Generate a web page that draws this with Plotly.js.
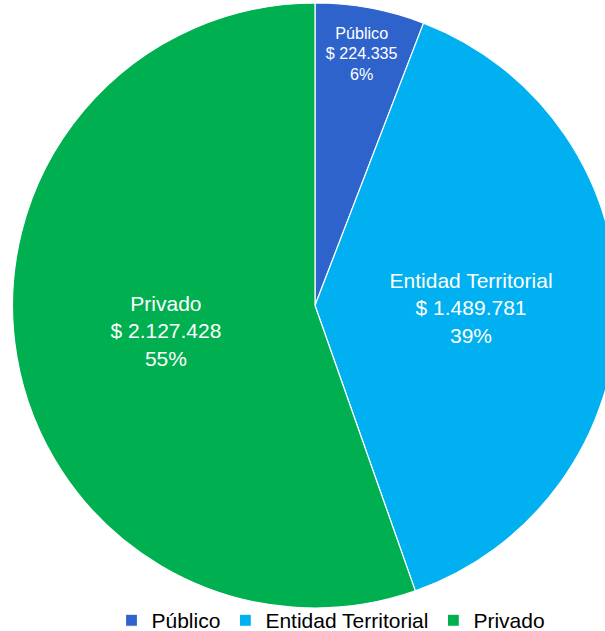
<!DOCTYPE html>
<html>
<head>
<meta charset="utf-8">
<script src="https://cdn.plot.ly/plotly-3.0.1.min.js"></script>
<style>
html, body { margin: 0; padding: 0; overflow: hidden; background: #ffffff; }
#chart { width: 625px; height: 631px; }
</style>
</head>
<body>
<div id="chart"></div>
<script>
const categories = ["Público", "Entidad Territorial", "Privado"];
const values = [224335, 1489781, 2127428];
const amountLabels = ["$ 224.335", "$ 1.489.781", "$ 2.127.428"];
const percentLabels = ["6%", "39%", "55%"];
const colors = ["#2F63CC", "#00B0F0", "#00B050"];

const texts = categories.map((c, i) => c + "<br>" + amountLabels[i] + "<br>" + percentLabels[i]);

const trace = {
  type: "pie",
  labels: categories,
  values: values,
  text: texts,
  texttemplate: "%{text}",
  textinfo: "text",
  textposition: "inside",
  insidetextorientation: "horizontal",
  sort: false,
  direction: "clockwise",
  rotation: 0,
  marker: { colors: colors, line: { color: "#ffffff", width: 1.2 } },
  textfont: { family: "Liberation Sans, Arial, sans-serif", color: "#ffffff", size: [19, 21, 21] },
  hoverinfo: "none",
  domain: { x: [12/625, 618/625], y: [1 - 608/631, 1 - 3/631] }
};

const layout = {
  width: 625,
  height: 631,
  margin: { l: 0, r: 0, t: 0, b: 0, autoexpand: false },
  paper_bgcolor: "#ffffff",
  showlegend: true,
  legend: {
    orientation: "h",
    x: 331/625,
    xanchor: "center",
    y: -0.016,
    yanchor: "bottom",
    bgcolor: "rgba(0,0,0,0)",
    font: { family: "Liberation Sans, Arial, sans-serif", size: 21, color: "#000000" },
    traceorder: "normal",
    itemclick: false
  }
};

Plotly.newPlot("chart", [trace], layout, { displayModeBar: false, staticPlot: true });
</script>
</body>
</html>
